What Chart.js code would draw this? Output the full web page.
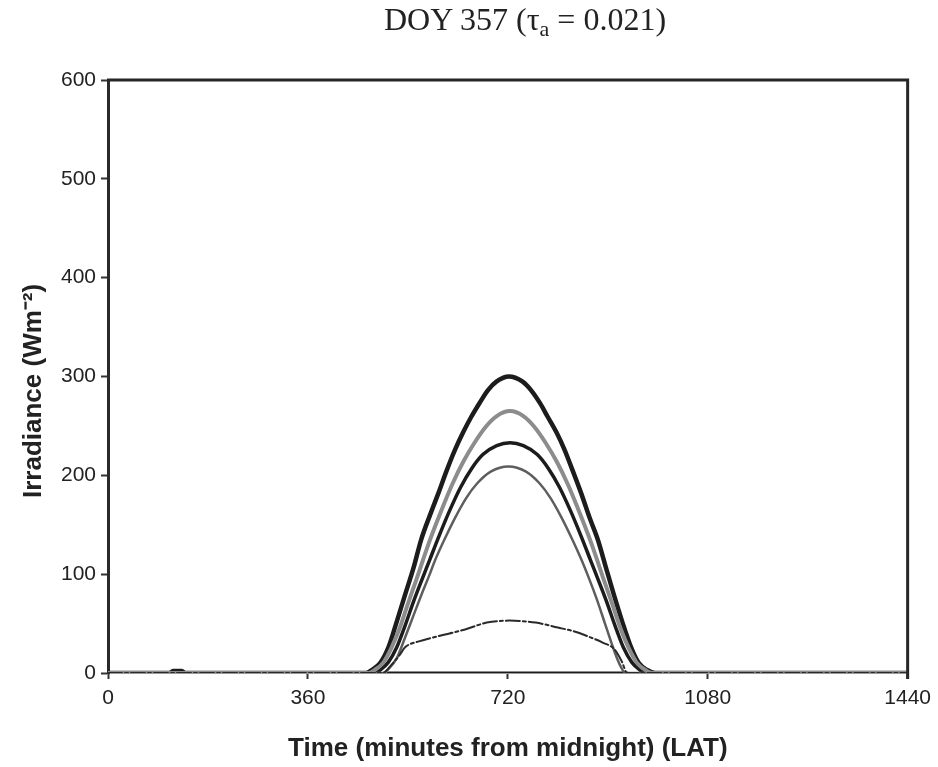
<!DOCTYPE html>
<html>
<head>
<meta charset="utf-8">
<script src="https://cdn.jsdelivr.net/npm/chart.js@4.4.0/dist/chart.umd.min.js"></script>
<style>
  html, body { margin: 0; padding: 0; background: #fff; }
  #wrap { position: relative; width: 938px; height: 767px; }
  #title { position: absolute; left: 0; top: 1px; width: 938px; padding-left: 112px; box-sizing: border-box;
           text-align: center; font-family: "Liberation Serif", "Times New Roman", serif; font-size: 32px;
           line-height: 36px; color: #222; }
  #title sub { font-size: 22px; vertical-align: -6px; line-height: 0; }
  canvas { position: absolute; left: 0; top: 0; }
</style>
</head>
<body>
<div id="wrap">
  <canvas id="c" width="938" height="767"></canvas>
  <div id="title">DOY 357 (τ<sub>a</sub> = 0.021)</div>
</div>
<script>
// ---- data ----
const xTicks = [0, 360, 720, 1080, 1440];
const yTicks = [0, 100, 200, 300, 400, 500, 600];

// Series 1: black thick (highest)
const time1 = [0, 110, 118, 132, 140, 465, 475, 490, 505, 520, 536, 550, 564, 580, 595, 610, 625, 640, 654, 670, 684, 700, 722, 746, 762, 778, 792, 808, 822, 838, 852, 868, 882, 896, 910, 926, 942, 956, 971, 985, 1440];
const value1 = [0, 0, 2, 2, 0, 0, 3, 10, 26, 52, 81, 106, 135, 160, 182, 205, 226, 244, 259, 274, 286, 295, 300, 295, 286, 273, 259, 243, 226, 203, 182, 156, 135, 108, 81, 52, 26, 10, 3, 0, 0];

// Series 2: grey thick
const time2 = [0, 470, 480, 495, 510, 525, 540, 555, 567, 580, 600, 620, 640, 660, 680, 700, 724, 748, 768, 788, 808, 828, 848, 868, 881, 893, 908, 923, 938, 953, 968, 980, 1440];
const value2 = [0, 0, 3, 10, 25, 45, 70, 94, 114, 135, 164, 191, 214, 233, 249, 260, 265, 260, 249, 233, 214, 191, 164, 135, 114, 94, 70, 45, 25, 10, 3, 0, 0];

// Series 3: black medium
const time3 = [0, 480, 490, 505, 520, 535, 550, 565, 579, 595, 615, 635, 655, 675, 700, 724, 748, 773, 793, 813, 833, 853, 869, 883, 898, 913, 928, 943, 958, 968, 1000, 1005, 1012, 1075, 1080, 1090, 1440];
const value3 = [0, 0, 3, 11, 26, 48, 72, 94, 114, 137, 164, 188, 207, 221, 230, 233, 230, 221, 207, 188, 164, 137, 114, 94, 72, 48, 26, 11, 3, 0, 0, -2, 0, 0, -2, 0, 0];

// Series 4: grey thin
const time4 = [0, 495, 505, 520, 535, 550, 565, 578, 589, 605, 625, 645, 665, 690, 721, 752, 777, 797, 817, 837, 853, 866, 880, 895, 910, 922, 932, 1440];
const value4 = [0, 0, 4, 15, 36, 58, 80, 98, 114, 134, 157, 177, 192, 204, 209, 204, 192, 177, 157, 134, 114, 96, 75, 50, 25, 8, 0, 0];

// Series 5: dash-dot (lowest)
const time5 = [0, 495, 510, 525, 535, 560, 593, 643, 682, 723, 770, 810, 840, 869, 890, 912, 925, 935, 1440];
const value5 = [0, 0, 8, 18, 26, 32, 37, 44, 51, 53, 51, 46, 42, 36, 31, 24, 12, 0, 0];

// Zero segment drawn black during daytime
const timeZero = [505, 935];
const valueZero = [0, 0];

function pts(xs, ys) { return xs.map((x, i) => ({ x: x, y: ys[i] })); }

const framePlugin = {
  id: 'frame',
  afterDraw(chart) {
    const { ctx, chartArea: a } = chart;
    ctx.save();
    ctx.strokeStyle = '#262626';
    ctx.lineWidth = 3;
    ctx.beginPath();
    ctx.moveTo(a.left - 1, a.top);
    ctx.lineTo(a.right, a.top);
    ctx.lineTo(a.right, a.bottom + 6);
    ctx.stroke();
    ctx.restore();
  }
};

const base = { pointRadius: 0, pointHoverRadius: 0, fill: false, cubicInterpolationMode: 'monotone', borderCapStyle: 'round', borderJoinStyle: 'round' };
const tickFont = { family: 'Liberation Sans, Arial, sans-serif', size: 21 };
const titleFont = { family: 'Liberation Sans, Arial, sans-serif', size: 26, weight: 'bold' };

new Chart(document.getElementById('c'), {
  type: 'line',
  data: {
    datasets: [
      Object.assign({}, base, { label: 'S5', data: pts(time5, value5), borderColor: '#2a2a2a', borderWidth: 2, borderDash: [14, 3, 3, 3], order: 0 }),
      Object.assign({}, base, { label: 'S2', data: pts(time2, value2), borderColor: '#8c8c8c', borderWidth: 4, order: 1 }),
      Object.assign({}, base, { label: 'S4', data: pts(time4, value4), borderColor: '#5e5e5e', borderWidth: 2.5, order: 2 }),
      Object.assign({}, base, { label: 'S3', data: pts(time3, value3), borderColor: '#1c1c1c', borderWidth: 3.5, order: 3 }),
      Object.assign({}, base, { label: 'S1', data: pts(time1, value1), borderColor: '#1c1c1c', borderWidth: 4.5, order: 4 }),
      Object.assign({}, base, { label: 'Z', data: pts(timeZero, valueZero), borderColor: '#1c1c1c', borderWidth: 3, order: 5 })
    ]
  },
  options: {
    responsive: false,
    animation: false,
    events: [],
    layout: { padding: { left: 18, right: 26, top: 80, bottom: 3 } },
    plugins: { legend: { display: false }, tooltip: { enabled: false }, title: { display: false } },
    scales: {
      x: {
        type: 'linear', min: 0, max: 1440,
        afterBuildTicks: (s) => { s.ticks = xTicks.map(v => ({ value: v })); },
        afterFit: (s) => { s.height = 91; },
        grid: { drawOnChartArea: false, drawTicks: true, tickLength: 6, tickColor: '#333', tickWidth: 2 },
        border: { display: true, color: '#999', width: 2 },
        ticks: { color: '#222', font: tickFont, padding: 7, maxRotation: 0, callback: (v) => String(v) },
        title: { display: true, text: 'Time (minutes from midnight) (LAT)', color: '#222', font: titleFont, padding: { top: 0, bottom: 0 } }
      },
      y: {
        type: 'linear', min: 0, max: 600,
        afterBuildTicks: (s) => { s.ticks = yTicks.map(v => ({ value: v })); },
        afterFit: (s) => { s.width = 90; },
        grid: { drawOnChartArea: false, drawTicks: true, tickLength: 7, tickColor: '#333', tickWidth: 2 },
        border: { display: true, color: '#2a2a2a', width: 3 },
        ticks: { color: '#222', font: tickFont, padding: 5, callback: (v) => String(v) },
        title: { display: true, text: 'Irradiance (Wm⁻²)    ', color: '#222', font: titleFont, padding: { top: 0, bottom: 0 } }
      }
    }
  },
  plugins: [framePlugin]
});
</script>
</body>
</html>
